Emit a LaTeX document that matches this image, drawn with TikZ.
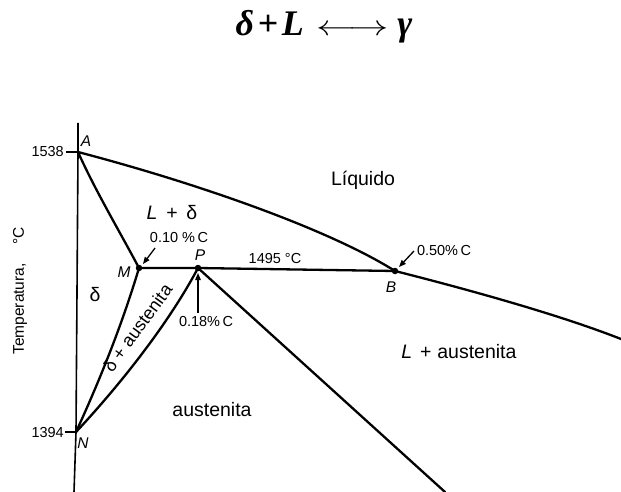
\documentclass[tikz,border=0pt]{standalone}
\usepackage{fontspec}
\setmainfont{Liberation Sans}
\newfontfamily\titlefont{Liberation Serif}
\usetikzlibrary{arrows.meta}
\tikzset{
  curve/.style={line width=2.3pt,line cap=round,line join=round},
  axis/.style={line width=1.6pt},
  pdot/.style={circle,fill=black,inner sep=0pt,minimum size=6.5pt},
  big/.style={font=\fontsize{19.5}{21}\selectfont,inner sep=0pt},
  small/.style={font=\fontsize{14.5}{16}\selectfont,inner sep=0pt},
  ptlabel/.style={font=\fontsize{15.5}{16}\selectfont\itshape,inner sep=0pt},
  ttl/.style={font=\fontsize{36}{38}\selectfont\titlefont\bfseries\itshape,inner sep=0pt},
  ptr/.style={line width=1.3pt,-{Triangle[length=7pt,width=5.5pt]}}
}
\begin{document}
\begin{tikzpicture}[x=1pt,y=-1pt]
\useasboundingbox (0,0) rectangle (621,492);
% points
\coordinate (axtop) at (78,123);
\coordinate (axbot) at (74,492);
\coordinate (A) at (78,152);
\coordinate (M) at (139,268);
\coordinate (P) at (198,268);
\coordinate (B) at (395,271);
\coordinate (N) at (76,432);
\coordinate (E) at (621,339);
\coordinate (F) at (445,492);
\coordinate (tA) at (66,152);
\coordinate (tN) at (65,432);
% title
\node[ttl] (title) at (324,27) {δ\hspace{0.1em}+\hspace{0.1em}L\hspace{0.35em}\scalebox{1.58}[1.15]{$\longleftrightarrow$}\hspace{0.25em}γ};
% axis and ticks
\draw[axis] (axtop) -- (A) -- (N) -- (axbot);
\draw[axis] (tA) -- (A);
\draw[axis] (tN) -- (N);
% phase boundaries
\draw[curve] (A) .. controls (200,184) and (330,230) .. (B);
\draw[curve] (B) .. controls (470,290) and (560,315) .. (E);
\draw[curve] (A) .. controls (96,192) and (120,232) .. (M);
\draw[curve] (M) -- (P) -- (B);
\draw[curve] (M) .. controls (122,325) and (99,382) .. (N);
\draw[curve] (N) .. controls (106,400) and (163,334) .. (P);
\draw[curve] (P) -- (F);
\node[pdot] (dM) at (M) {};
\node[pdot] (dP) at (P) {};
\node[pdot] (dB) at (B) {};
% point labels
\node[ptlabel] (lA) at (86,141) {A};
\node[ptlabel] (lM) at (124,272) {M};
\node[ptlabel] (lP) at (200,255) {P};
\node[ptlabel] (lB) at (391,287) {B};
\node[ptlabel] (lN) at (83,443) {N};
% axis labels
\node[small,anchor=east] (v1538) at (64,152) {1538};
\node[small,anchor=east] (v1394) at (64,433) {1394};
\node[font=\fontsize{15.5}{16}\selectfont,inner sep=0pt,rotate=90] (ylab) at (20,291) {Temperatura,\hspace{1.2em}°C};
% region labels
\node[big] (liq) at (363,180) {Líquido};
\node[big] (Ld) at (172,213) {\textit{L}\hspace{0.45em}+\hspace{0.45em}δ};
\node[big] (d) at (95,295) {δ};
\node[font=\fontsize{18}{20}\selectfont,inner sep=0pt,rotate=54] (da) at (137.5,328) {δ + austenita};
\node[big] (La) at (459,352) {\textit{L}\hspace{0.4em}+\hspace{0.3em}austenita};
\node[big] (aus) at (212,410) {austenita};
% composition labels with arrows
\node[small] (c10) at (179,238) {0.10 \%\,C};
\coordinate (c10a) at (155,248);
\coordinate (c10b) at (143,264);
\draw[ptr] (c10a) -- (c10b);
\node[small] (t1495) at (275,259) {1495 °C};
\node[small] (c18) at (206,322) {0.18\%\,C};
\coordinate (c18a) at (198,313);
\coordinate (c18b) at (198,273);
\draw[ptr] (c18a) -- (c18b);
\node[small] (c50) at (444,251) {0.50\%\,C};
\coordinate (c50a) at (414,251);
\coordinate (c50b) at (399,267);
\draw[ptr] (c50a) -- (c50b);
\end{tikzpicture}
\end{document}
